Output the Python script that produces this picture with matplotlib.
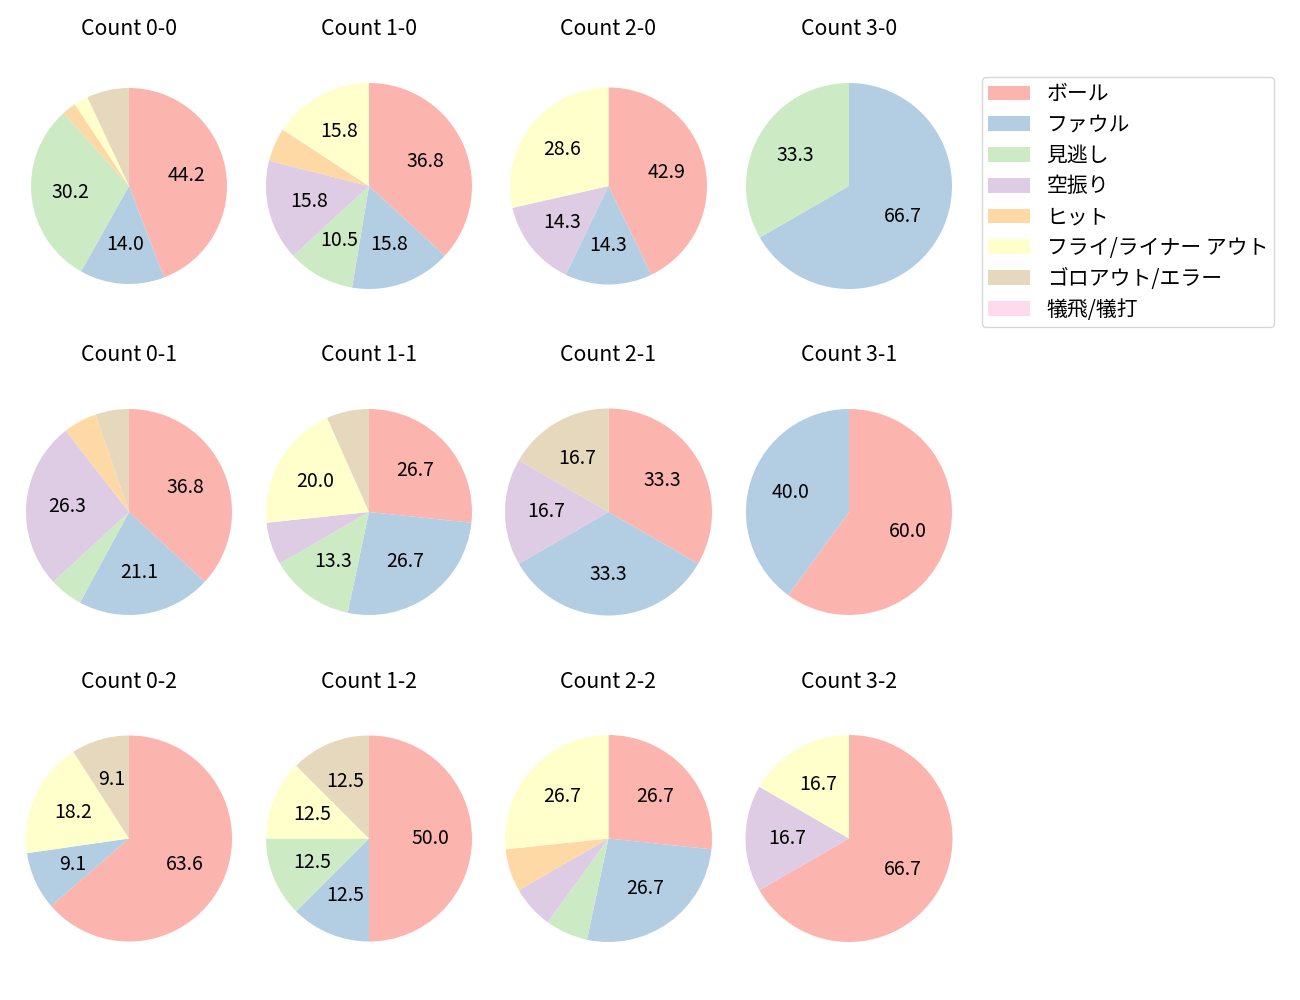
import matplotlib
matplotlib.use("Agg")
import matplotlib.pyplot as plt
from matplotlib.patches import Patch

plt.rcParams['font.family'] = ['Noto Sans CJK JP', 'DejaVu Sans']

categories = ['ボール', 'ファウル', '見逃し', '空振り', 'ヒット',
              'フライ/ライナー アウト', 'ゴロアウト/エラー', '犠飛/犠打']
colors = ['#fbb4ae', '#b3cde3', '#ccebc5', '#decbe4', '#fed9a6',
          '#ffffcc', '#e5d8bd', '#fddaec']

titles = ['Count 0-0', 'Count 1-0', 'Count 2-0', 'Count 3-0',
          'Count 0-1', 'Count 1-1', 'Count 2-1', 'Count 3-1',
          'Count 0-2', 'Count 1-2', 'Count 2-2', 'Count 3-2']

c00 = [19, 6, 13, 0, 1, 1, 3, 0]
c10 = [7, 3, 2, 3, 1, 3, 0, 0]
c20 = [3, 1, 0, 1, 0, 2, 0, 0]
c30 = [0, 2, 1, 0, 0, 0, 0, 0]
c01 = [7, 4, 1, 5, 1, 0, 1, 0]
c11 = [4, 4, 2, 1, 0, 3, 1, 0]
c21 = [2, 2, 0, 1, 0, 0, 1, 0]
c31 = [3, 2, 0, 0, 0, 0, 0, 0]
c02 = [7, 1, 0, 0, 0, 2, 1, 0]
c12 = [4, 1, 1, 0, 0, 1, 1, 0]
c22 = [4, 4, 1, 1, 1, 4, 0, 0]
c32 = [4, 0, 0, 1, 0, 1, 0, 0]
counts = [c00, c10, c20, c30, c01, c11, c21, c31, c02, c12, c22, c32]
radii = [0.98, 1.03, 0.985, 1.03, 1.03, 1.03, 1.035, 1.03, 1.03, 1.03, 1.035, 1.035]

W, H = 1300, 1000
fig = plt.figure(figsize=(13, 10), dpi=100)

col_x = [129, 369, 608.5, 849]
row_y = [186, 512, 838.5]
box = 240  # px

for i, (title, vals, r) in enumerate(zip(titles, counts, radii)):
    row, col = divmod(i, 4)
    cx, cy = col_x[col], row_y[row]
    ax = fig.add_axes([(cx - box / 2) / W, 1 - (cy + box / 2) / H, box / W, box / H])
    ax.pie(vals, colors=colors, startangle=90, counterclock=False,
           radius=r,
           autopct=lambda p: f'{p:.1f}' if p > 8 else '',
           pctdistance=0.6, textprops={'fontsize': 14})
    ax.set_xlim(-1.2, 1.2)
    ax.set_ylim(-1.2, 1.2)
    ax.set_aspect('equal')
    ax.set_title(title, fontsize=15.3, pad=22)

handles = [Patch(facecolor=c, label=l) for c, l in zip(colors, categories)]
fig.legend(handles=handles, loc='upper left', bbox_to_anchor=(982 / W, 1 - 77 / H),
           borderaxespad=0, fontsize=15, labelspacing=0.42, borderpad=0.3)

fig.savefig('out.png', dpi=100)
